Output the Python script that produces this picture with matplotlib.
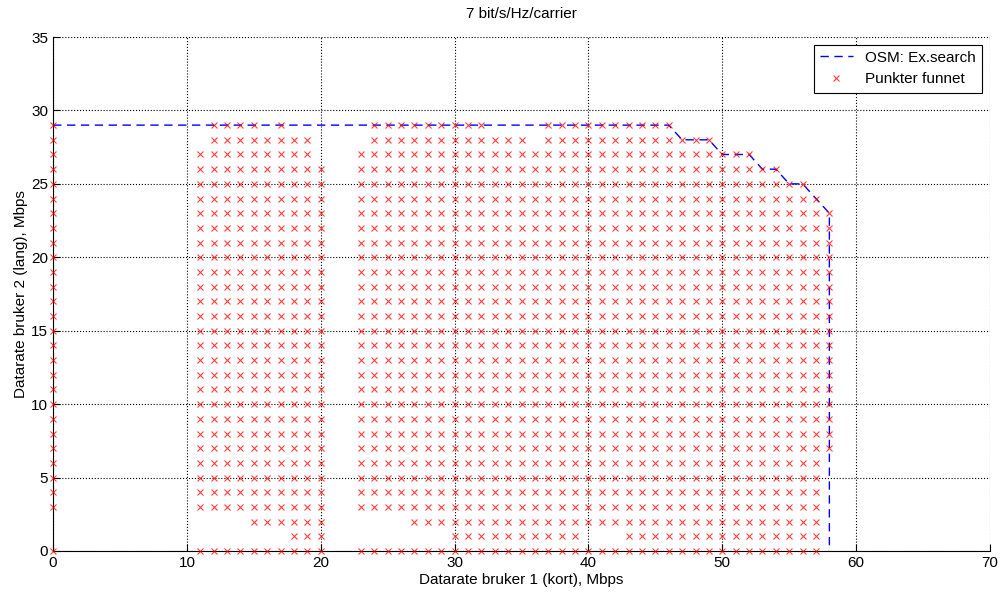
import matplotlib.pyplot as plt
import numpy as np

plt.rcParams['font.family'] = ['Liberation Sans', 'DejaVu Sans']
plt.rcParams['font.size'] = 11

# OSM exhaustive search - rate region border
osm_x = [0, 46, 47, 49, 50, 52, 53, 54, 55, 56, 57, 58, 58]
osm_y = [29, 29, 28, 28, 27, 27, 26, 26, 25, 25, 24, 23, 0]

# points found: (user2 from, user2 to, [runs of user1 rate (start, end)])
found_rows = [
    (0, 0, [(0, 0), (11, 20), (23, 57)]),
    (1, 1, [(18, 20), (30, 39), (43, 57)]),
    (2, 2, [(15, 20), (27, 57)]),
    (3, 6, [(0, 0), (11, 20), (23, 57)]),
    (7, 23, [(0, 0), (11, 20), (23, 58)]),
    (24, 24, [(0, 0), (11, 20), (23, 57)]),
    (25, 25, [(0, 0), (11, 20), (23, 56)]),
    (26, 26, [(0, 0), (11, 20), (23, 54)]),
    (27, 27, [(0, 0), (11, 19), (23, 52)]),
    (28, 28, [(0, 0), (12, 19), (24, 35), (37, 49)]),
    (29, 29, [(0, 0), (12, 15), (17, 17), (24, 32), (37, 46)]),
]

px, py = [], []
for y0, y1, runs in found_rows:
    for y in range(y0, y1 + 1):
        for a, b in runs:
            for x in range(a, b + 1):
                px.append(x)
                py.append(y)

fig = plt.figure(figsize=(10.02, 5.94), dpi=100)
ax = fig.add_axes([0.053, 0.0724, 0.935, 0.8653])

ax.plot(osm_x, osm_y, '--', color='blue', lw=1.0, dashes=(6, 4),
        label='OSM: Ex.search', clip_on=False)
ax.plot(px, py, 'x', color='red', ms=4, mew=0.8, alpha=0.75, ls='none',
        label='Punkter funnet', clip_on=False, zorder=3)

ax.set_xlim(0, 70)
ax.set_ylim(0, 35)
ax.set_xticks(np.arange(0, 71, 10))
ax.set_yticks(np.arange(0, 36, 5))
ax.grid(True, ls=':', color='black', lw=0.8)
ax.spines['top'].set_visible(False)
ax.spines['right'].set_visible(False)
ax.tick_params(direction='in', length=5, labelsize=11)

ax.set_title('7 bit/s/Hz/carrier', fontsize=11, pad=14)
ax.set_xlabel('Datarate bruker 1 (kort), Mbps', fontsize=11, labelpad=2)
ax.set_ylabel('Datarate bruker 2 (lang), Mbps', fontsize=11, labelpad=2)

leg = ax.legend(loc='upper right', fancybox=False, edgecolor='black', framealpha=1,
                handlelength=2.2, borderaxespad=0.5)
leg.get_frame().set_linewidth(0.8)

fig.savefig('out.png', dpi=100)
